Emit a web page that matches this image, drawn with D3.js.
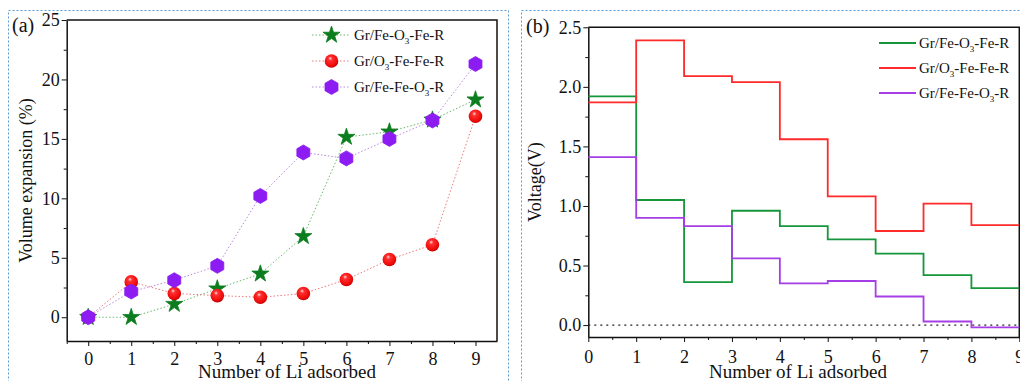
<!DOCTYPE html>
<html>
  <head>
    <style>
      body {
        margin: 0;
        background: #fff;
      }
      svg text {
        font-family: "Liberation Serif", "Times New Roman", serif !important;
        fill: #111;
      }
      .axis path, .axis line {
        stroke: #111;
      }
      .axis path {
        stroke-width: 1.5px;
      }
    </style>
  </head>
  <body>
    <script src="https://d3js.org/d3.v7.min.js"></script>
    <script>
      // data
      const liCount = [0, 1, 2, 3, 4, 5, 6, 7, 8, 9];

      const seriesNames = [
        ["Gr/Fe-O", "3", "-Fe-R"],
        ["Gr/O", "3", "-Fe-Fe-R"],
        ["Gr/Fe-Fe-O", "3", "-R"]
      ];

      // (a) volume expansion, %
      const expFeO3Fe = [0, 0, 1.1, 2.4, 3.65, 6.8, 15.15, 15.6, 16.6, 18.3];
      const expO3FeFe = [0, 2.97, 2.0, 1.82, 1.68, 1.99, 3.17, 4.85, 6.1, 16.9];
      const expFeFeO3 = [0, 2.16, 3.11, 4.32, 10.2, 13.86, 13.36, 15.0, 16.55, 21.3];

      // (b) voltage, V, one value per step (n -> n+1)
      const voltFeO3Fe = [1.92, 1.05, 0.36, 0.96, 0.83, 0.72, 0.60, 0.42, 0.31];
      const voltO3FeFe = [1.87, 2.39, 2.09, 2.04, 1.56, 1.08, 0.79, 1.02, 0.84];
      const voltFeFeO3 = [1.41, 0.90, 0.83, 0.56, 0.35, 0.37, 0.24, 0.03, -0.02];

      const yTicksA = [0, 5, 10, 15, 20, 25];
      const yTicksB = [0.0, 0.5, 1.0, 1.5, 2.0, 2.5];

      const markerFill = ["#0b7d1e", "url(#ball)", "#8c1cf2"];
      const dotColor = ["#6cb86c", "#ee7a7a", "#b88ae0"];
      const stepColor = ["#16963a", "#ff2a2a", "#a63ee6"];
      const serif = "'Liberation Serif', 'Times New Roman', serif";

      const W = 1020, H = 381;
      const svg = d3.select("body").append("svg")
          .attr("width", W)
          .attr("height", H);

      const defs = svg.append("defs");
      const grad = defs.append("radialGradient")
          .attr("id", "ball")
          .attr("cx", "45%").attr("cy", "40%").attr("r", "60%")
          .attr("fx", "40%").attr("fy", "30%");
      grad.append("stop").attr("offset", "0%").attr("stop-color", "#ffe0e0");
      grad.append("stop").attr("offset", "25%").attr("stop-color", "#ff3030");
      grad.append("stop").attr("offset", "80%").attr("stop-color", "#ee0a0a");
      grad.append("stop").attr("offset", "100%").attr("stop-color", "#c00000");

      // dashed panel borders
      svg.append("rect")
          .attr("x", 8.5).attr("y", 10.5)
          .attr("width", 500).attr("height", 380)
          .attr("fill", "none")
          .attr("stroke", "#5b9bd5")
          .attr("stroke-dasharray", "2,2");
      svg.append("rect")
          .attr("x", 521.5).attr("y", 10.5)
          .attr("width", 510).attr("height", 380)
          .attr("fill", "none")
          .attr("stroke", "#5b9bd5")
          .attr("stroke-dasharray", "2,2");

      function frame(g, x, y, tickVals, minorX, minorY, fmt, right){
        const [x0, x1] = x.range(), [y0, y1] = y.range();

        g.append("g").attr("class", "axis")
            .attr("transform", `translate(0,${y0})`)
            .call(d3.axisBottom(x).tickValues(minorX).tickSize(3).tickFormat(""))
          .select(".domain").remove();
        g.append("g").attr("class", "axis")
            .attr("transform", `translate(0,${y0})`)
            .attr("font-family", serif)
            .attr("font-size", 18)
            .call(d3.axisBottom(x).tickValues(liCount).tickSize(5).tickPadding(right ? 8 : 6).tickSizeOuter(0))
            .attr("font-family", serif)
            .attr("font-size", 18);

        g.append("g").attr("class", "axis")
            .attr("transform", `translate(${x0},0)`)
            .call(d3.axisLeft(y).tickValues(minorY).tickSize(3).tickFormat(""))
          .select(".domain").remove();
        g.append("g").attr("class", "axis")
            .attr("transform", `translate(${x0},0)`)
            .call(d3.axisLeft(y).tickValues(tickVals).tickSize(5).tickPadding(2).tickSizeOuter(0).tickFormat(fmt))
            .attr("font-family", serif)
            .attr("font-size", 18);

        g.append("path")
            .attr("d", `M${x0},${y1}H${x1}V${y0}`)
            .attr("fill", "none")
            .attr("stroke", "#111")
            .attr("stroke-width", 1.5);
      }

      function label(g, parts, x, y, size){
        const t = g.append("text")
            .attr("x", x).attr("y", y)
            .style("font-size", size + "px");
        t.append("tspan").text(parts[0]);
        t.append("tspan").attr("dy", 4).style("font-size", (size * 0.6) + "px").text(parts[1]);
        t.append("tspan").attr("dy", -4).text(parts[2]);
      }

      // ---------- (a) ----------
      const xA = d3.scaleLinear([-0.5, 9.5], [66.7, 497]);
      const yA = d3.scaleLinear([-2, 25], [341, 20]);
      const gA = svg.append("g");

      frame(gA, xA, yA, yTicksA,
          [-0.5, 0.5, 1.5, 2.5, 3.5, 4.5, 5.5, 6.5, 7.5, 8.5],
          [2.5, 7.5, 12.5, 17.5, 22.5],
          d3.format("d"), false);

      const hexagon = r => {
        const pts = d3.range(6).map(i => {
          const a = Math.PI / 3 * i - Math.PI / 2;
          return [r * Math.cos(a), r * Math.sin(a)];
        });
        return "M" + pts.join("L") + "Z";
      };
      const star = d3.symbol(d3.symbolStar, 90)();
      const markerPath = [() => star, null, () => hexagon(7.5)];

      const seriesA = [expFeO3Fe, expO3FeFe, expFeFeO3];
      const lineA = d3.line().x((d, i) => xA(liCount[i])).y(d => yA(d));

      function drawMarker(sel, k){
        if (k === 1){
          sel.append("circle").attr("r", 6.8).attr("fill", markerFill[k]);
        } else {
          sel.append("path").attr("d", markerPath[k]()).attr("fill", markerFill[k])
              .attr("stroke", markerFill[k]).attr("stroke-width", 0.8).attr("stroke-linejoin", "round");
        }
      }

      seriesA.forEach((vals, k) => {
        gA.append("path")
            .attr("d", lineA(vals))
            .attr("fill", "none")
            .attr("stroke", dotColor[k])
            .attr("stroke-width", 1)
            .attr("stroke-dasharray", "1.5,2");
      });
      seriesA.forEach((vals, k) => {
        gA.selectAll(null)
            .data(vals)
          .join("g")
            .attr("transform", (d, i) => `translate(${xA(liCount[i])},${yA(d)})`)
            .each(function(){ drawMarker(d3.select(this), k); });
      });

      // legend (a)
      const legYA = [35, 61, 87];
      seriesNames.forEach((parts, k) => {
        gA.append("line")
            .attr("x1", 312).attr("x2", 350)
            .attr("y1", legYA[k]).attr("y2", legYA[k])
            .attr("stroke", dotColor[k])
            .attr("stroke-dasharray", "1.5,2");
        const m = gA.append("g").attr("transform", `translate(331.5,${legYA[k]})`);
        drawMarker(m, k);
        label(gA, parts, 354, legYA[k] + 5, 15);
      });

      gA.append("text")
          .attr("x", 12).attr("y", 32)
          .style("font-size", "20px")
          .text("(a)");
      gA.append("text")
          .attr("transform", `translate(32,${(yA.range()[0] + yA.range()[1]) / 2}) rotate(-90)`)
          .attr("text-anchor", "middle")
          .style("font-size", "18px")
          .text("Volume expansion (%)");
      gA.append("text")
          .attr("x", 287).attr("y", 378)
          .attr("text-anchor", "middle")
          .style("font-size", "19px")
          .text("Number of Li adsorbed");

      // ---------- (b) ----------
      const xB = d3.scaleLinear([0, 9], [588.3, 1019.3]);
      const yB = d3.scaleLinear([-0.1, 2.5], [337, 27.3]);
      const gB = svg.append("g");

      frame(gB, xB, yB, yTicksB,
          [0.5, 1.5, 2.5, 3.5, 4.5, 5.5, 6.5, 7.5, 8.5],
          [0.25, 0.75, 1.25, 1.75, 2.25],
          d3.format(".1f"), true);

      gB.append("line")
          .attr("x1", xB(0)).attr("x2", xB(9))
          .attr("y1", yB(0)).attr("y2", yB(0))
          .attr("stroke", "#222")
          .attr("stroke-width", 1.2)
          .attr("stroke-dasharray", "2,4");

      const stepLine = d3.line()
          .x(d => xB(d[0]))
          .y(d => yB(d[1]))
          .curve(d3.curveStepAfter);

      [voltFeO3Fe, voltO3FeFe, voltFeFeO3].forEach((vals, k) => {
        const pts = vals.map((v, i) => [liCount[i], v]);
        pts.push([liCount[vals.length], vals[vals.length - 1]]);
        gB.append("path")
            .attr("d", stepLine(pts))
            .attr("fill", "none")
            .attr("stroke", stepColor[k])
            .attr("stroke-width", 1.8);
      });

      const legYB = [43, 68, 93];
      seriesNames.forEach((parts, k) => {
        gB.append("line")
            .attr("x1", 879).attr("x2", 916)
            .attr("y1", legYB[k]).attr("y2", legYB[k])
            .attr("stroke", stepColor[k])
            .attr("stroke-width", 2);
        label(gB, parts, 919, legYB[k] + 5, 15);
      });

      gB.append("text")
          .attr("x", 526).attr("y", 33)
          .style("font-size", "20px")
          .text("(b)");
      gB.append("text")
          .attr("transform", `translate(541,${(yB.range()[0] + yB.range()[1]) / 2}) rotate(-90)`)
          .attr("text-anchor", "middle")
          .style("font-size", "18px")
          .text("Voltage(V)");
      gB.append("text")
          .attr("x", 798).attr("y", 378)
          .attr("text-anchor", "middle")
          .style("font-size", "19px")
          .text("Number of Li adsorbed");
    </script>
  </body>
</html>
